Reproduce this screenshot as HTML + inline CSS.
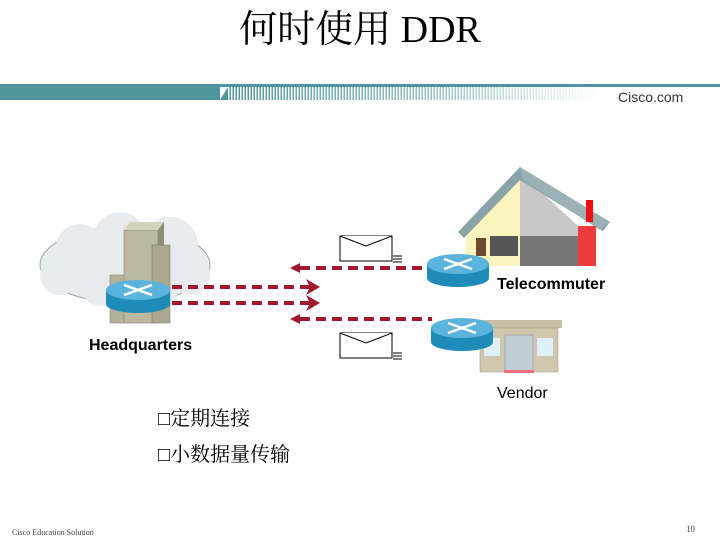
<!DOCTYPE html>
<html><head><meta charset="utf-8"><style>
html,body{margin:0;padding:0;background:#fff;}
svg{display:block}
</style></head><body>
<svg width="720" height="540" viewBox="0 0 720 540" xmlns="http://www.w3.org/2000/svg">
<defs>
<linearGradient id="stripe" x1="0" x2="1" y1="0" y2="0">
<stop offset="0" stop-color="#4f969c"/><stop offset="0.6" stop-color="#9fc6c8"/><stop offset="1" stop-color="#fff"/>
</linearGradient>
<pattern id="vl" width="3" height="16" patternUnits="userSpaceOnUse"><rect width="1.5" height="16" fill="#fff"/></pattern>
</defs>
<text x="360" y="42" text-anchor="middle" font-family="'Liberation Serif','Noto Serif CJK SC',serif" font-size="38" fill="#000">何时使用 DDR</text>
<rect x="0" y="84" width="720" height="3" fill="#4f969c"/>
<rect x="0" y="84" width="220" height="16" fill="#4f969c"/>
<polygon points="220,100 228,87 600,87 600,100" fill="url(#stripe)"/>
<rect x="228" y="87" width="372" height="13" fill="url(#vl)"/>
<text x="618" y="102" font-family="'Liberation Sans',sans-serif" font-size="14" fill="#333">Cisco.com</text>

<!-- cloud -->
<g fill="#e8ecee" stroke="#9aa" stroke-width="1">
<ellipse cx="125" cy="265" rx="85" ry="38"/>
</g>
<g fill="#e8ecee">
<circle cx="80" cy="248" r="24"/><circle cx="120" cy="238" r="26"/><circle cx="170" cy="245" r="28"/><circle cx="60" cy="275" r="20"/><circle cx="190" cy="275" r="20"/><circle cx="100" cy="288" r="18"/><circle cx="160" cy="290" r="18"/>
</g>
<!-- buildings -->
<rect x="110" y="275" width="20" height="48" fill="#b5b29a" stroke="#776" stroke-width="0.5"/>
<rect x="124" y="230" width="34" height="93" fill="#bcb9a0" stroke="#776" stroke-width="0.5"/>
<polygon points="124,230 130,222 164,222 158,230" fill="#d6d3bb"/>
<polygon points="158,230 164,222 164,315 158,323" fill="#8f8d78"/>
<rect x="152" y="245" width="18" height="78" fill="#aaa78f" stroke="#776" stroke-width="0.5"/>
<!-- HQ router -->
<rect x="106" y="290" width="64" height="14" fill="#1f8bb8"/>
<ellipse cx="138" cy="304" rx="32" ry="9" fill="#1f8bb8"/>
<ellipse cx="138" cy="290" rx="32" ry="10" fill="#5ab4dc"/>
<g stroke="#fff" stroke-width="2.5"><line x1="124" y1="285" x2="152" y2="295"/><line x1="124" y1="295" x2="152" y2="285"/></g>

<!-- dashed links -->
<g stroke="#a01830" stroke-width="4" stroke-dasharray="10,6" fill="none">
<line x1="300" y1="268" x2="428" y2="268"/>
<line x1="172" y1="287" x2="312" y2="287"/>
<line x1="172" y1="303" x2="312" y2="303"/>
<line x1="300" y1="319" x2="432" y2="319"/>
</g>
<g fill="#a01830">
<polygon points="290,268 300,263 300,273"/>
<polygon points="290,319 300,314 300,324"/>
<polygon points="306,279 320,287 306,295 310,287"/>
<polygon points="306,295 320,303 306,311 310,303"/>
</g>
<!-- envelopes -->
<g fill="#fff" stroke="#000" stroke-width="1">
<rect x="340" y="236" width="52" height="25"/><polyline points="340,236 366,246 392,236"/>
<rect x="340" y="333" width="52" height="25"/><polyline points="340,333 366,343 392,333"/>
</g>
<g stroke="#000" stroke-width="1"><line x1="393" y1="256" x2="402" y2="256"/><line x1="393" y1="259" x2="402" y2="259"/><line x1="393" y1="262" x2="402" y2="262"/>
<line x1="393" y1="353" x2="402" y2="353"/><line x1="393" y1="356" x2="402" y2="356"/><line x1="393" y1="359" x2="402" y2="359"/></g>

<!-- house -->
<polygon points="466,232 520,172 520,266 466,266" fill="#fbf4bc"/>
<polygon points="520,172 578,226 578,266 520,266" fill="#c8c8c8"/>
<rect x="520" y="236" width="58" height="30" fill="#777"/>
<polygon points="458,232 520,167 610,222 603,231 520,180 464,238" fill="#8aa3a8"/>
<polygon points="520,167 610,222 600,230 523,180" fill="#9ab1b6"/>
<rect x="578" y="226" width="18" height="40" fill="#ee3b3b"/>
<rect x="586" y="200" width="7" height="22" fill="#e11"/>
<rect x="490" y="236" width="28" height="20" fill="#555"/>
<rect x="476" y="238" width="10" height="18" fill="#6b4a2f"/>
<!-- telecommuter router -->
<rect x="427" y="264" width="62" height="14" fill="#1f8bb8"/>
<ellipse cx="458" cy="278" rx="31" ry="9" fill="#1f8bb8"/>
<ellipse cx="458" cy="264" rx="31" ry="10" fill="#5ab4dc"/>
<g stroke="#fff" stroke-width="2.5"><line x1="444" y1="259" x2="472" y2="269"/><line x1="444" y1="269" x2="472" y2="259"/></g>
<text x="497" y="289" font-family="'Liberation Sans',sans-serif" font-size="16" font-weight="bold" fill="#000">Telecommuter</text>

<!-- store -->
<rect x="478" y="320" width="84" height="8" fill="#c9bfa6"/>
<rect x="480" y="328" width="78" height="44" fill="#d1c7ae" stroke="#998" stroke-width="0.5"/>
<rect x="484" y="338" width="16" height="18" fill="#dff0f8"/>
<rect x="537" y="338" width="16" height="18" fill="#dff0f8"/>
<rect x="505" y="335" width="28" height="37" fill="#bfcfd3" stroke="#889" stroke-width="0.5"/>
<rect x="504" y="370" width="30" height="3" fill="#f07080"/>
<!-- vendor router -->
<rect x="431" y="328" width="62" height="14" fill="#1f8bb8"/>
<ellipse cx="462" cy="342" rx="31" ry="9" fill="#1f8bb8"/>
<ellipse cx="462" cy="328" rx="31" ry="10" fill="#5ab4dc"/>
<g stroke="#fff" stroke-width="2.5"><line x1="448" y1="323" x2="476" y2="333"/><line x1="448" y1="333" x2="476" y2="323"/></g>
<text x="497" y="398" font-family="'Liberation Sans',sans-serif" font-size="16" fill="#000">Vendor</text>

<text x="89" y="350" font-family="'Liberation Sans',sans-serif" font-size="16" font-weight="bold" fill="#000">Headquarters</text>

<g font-family="'Liberation Serif','Noto Serif CJK SC',serif" font-size="20" fill="#000">
<text x="158" y="425">□定期连接</text>
<text x="158" y="461">□小数据量传输</text>
</g>
<text x="12" y="535" font-family="'Liberation Serif',serif" font-size="8" fill="#444">Cisco Education Solution</text>
<text x="686" y="532" font-family="'Liberation Serif',serif" font-size="9" fill="#444">10</text>
</svg>
</body></html>
